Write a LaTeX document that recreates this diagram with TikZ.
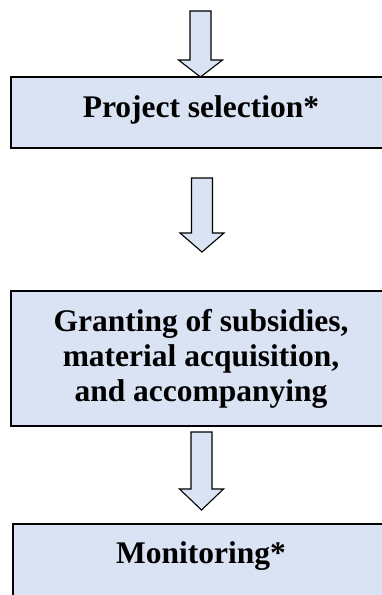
\documentclass[tikz,border=0pt]{standalone}
\usepackage{fontspec}
\setmainfont{Liberation Serif}
\definecolor{boxfill}{HTML}{DAE3F3}
\tikzset{
  stagebox/.style={draw=black, line width=1.5pt, fill=boxfill, rectangle, inner sep=0pt},
  stagetext/.style={font=\fontsize{31.5}{35}\selectfont\bfseries, inner sep=0pt, anchor=base, text=black},
  barrow/.style={draw=black, line width=1.1pt, fill=boxfill, line join=miter}
}
% #1 x centre, #2 top y, #3 tip y, #4 head length
\newcommand\blkarrow[4]{%
  \draw[barrow] (#1-10.5,#2) -- (#1+10.5,#2) -- (#1+10.5,#3-#4) -- (#1+22,#3-#4) -- (#1,#3) -- (#1-22,#3-#4) -- (#1-10.5,#3-#4) -- cycle;}
\begin{document}
\begin{tikzpicture}[x=1pt,y=-1pt]
\useasboundingbox (0,0) rectangle (382,595);
\fill[white] (0,0) rectangle (382,595);
% boxes
\node[stagebox, minimum width=380pt, minimum height=71pt] (b1) at (201,112.5) {};
\node[stagebox, minimum width=380pt, minimum height=135pt] (b2) at (201,358.5) {};
\node[stagebox, minimum width=378pt, minimum height=86pt] (b3) at (202,567) {};
% texts
\node[stagetext] (t1) at (201,117) {Project selection*};
\node[stagetext] (t2a) at (201,331) {Granting of subsidies,};
\node[stagetext] (t2b) at (201,366) {material acquisition,};
\node[stagetext] (t2c) at (201,401) {and accompanying};
\node[stagetext] (t3) at (201,563) {Monitoring*};
% arrows
\blkarrow{200.5}{11}{77}{17}
\blkarrow{202}{178}{252}{19}
\blkarrow{201.5}{432}{510}{21}
\end{tikzpicture}
\end{document}
